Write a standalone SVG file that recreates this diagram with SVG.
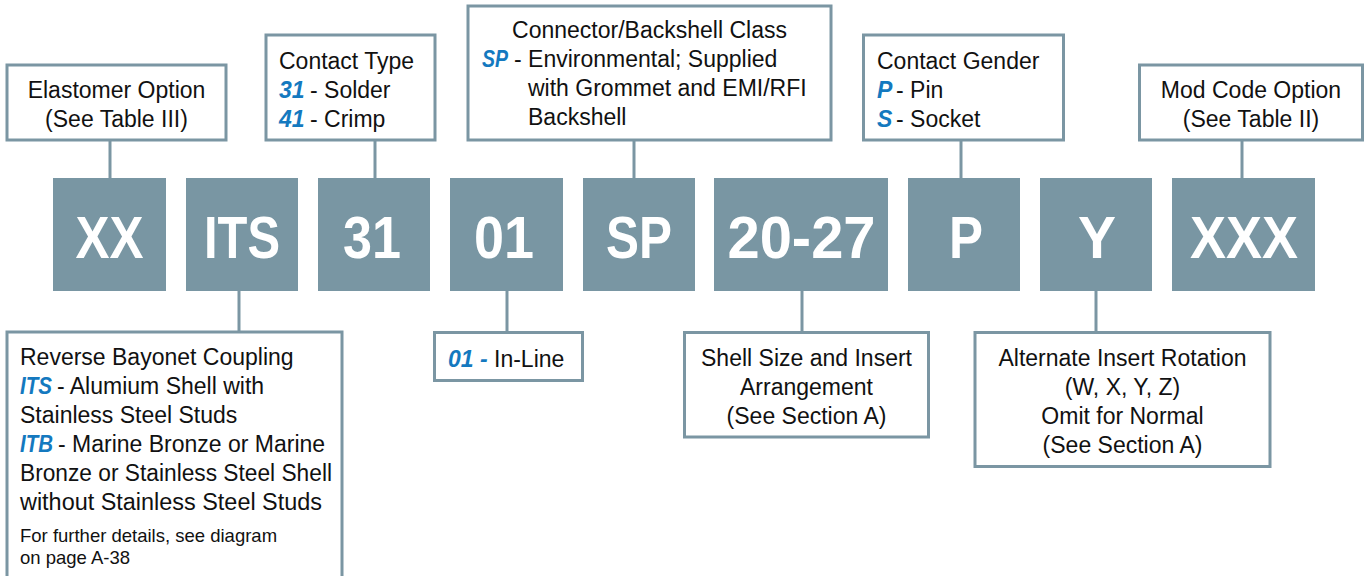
<svg xmlns="http://www.w3.org/2000/svg" width="1365" height="576" viewBox="0 0 1365 576">
<style>
.code{fill:#7996a3}
.ct{font-family:"Liberation Sans",Arial,sans-serif;font-weight:bold;font-size:60px;fill:#fff;text-anchor:middle}
.box{fill:#fff;stroke:#7b96a3;stroke-width:3}
.t{font-family:"Liberation Sans",Arial,sans-serif;font-size:23px;fill:#111}
.c{text-anchor:middle}
.s{font-size:18.5px}
.b{fill:#1479bf;font-weight:bold;font-style:italic}
.ln{stroke:#7b96a3;stroke-width:3;fill:none}
</style>
<rect width="1365" height="576" fill="#fff"/>
<g id="connectors">
<line class="ln" x1="110" y1="140" x2="110" y2="178"/>
<line class="ln" x1="375" y1="140" x2="375" y2="178"/>
<line class="ln" x1="634" y1="140" x2="634" y2="178"/>
<line class="ln" x1="961" y1="140" x2="961" y2="178"/>
<line class="ln" x1="1242" y1="140" x2="1242" y2="178"/>
<line class="ln" x1="239" y1="291" x2="239" y2="332"/>
<line class="ln" x1="507" y1="291" x2="507" y2="332"/>
<line class="ln" x1="802" y1="291" x2="802" y2="332"/>
<line class="ln" x1="1096" y1="291" x2="1096" y2="332"/>
</g>
<g id="code-xx"><rect class="code" x="53" y="178" width="113" height="113"/><text class="ct" x="109.5" y="258" textLength="68" lengthAdjust="spacingAndGlyphs">XX</text></g>
<g id="code-its"><rect class="code" x="186" y="178" width="112" height="113"/><text class="ct" x="242" y="258" textLength="76" lengthAdjust="spacingAndGlyphs">ITS</text></g>
<g id="code-31"><rect class="code" x="318" y="178" width="112" height="113"/><text class="ct" x="372" y="258" textLength="58" lengthAdjust="spacingAndGlyphs">31</text></g>
<g id="code-01"><rect class="code" x="450" y="178" width="113" height="113"/><text class="ct" x="504" y="258" textLength="60" lengthAdjust="spacingAndGlyphs">01</text></g>
<g id="code-sp"><rect class="code" x="583" y="178" width="112" height="113"/><text class="ct" x="639" y="258" textLength="66" lengthAdjust="spacingAndGlyphs">SP</text></g>
<g id="code-2027"><rect class="code" x="714" y="178" width="174" height="113"/><text class="ct" x="801.5" y="258" textLength="148" lengthAdjust="spacingAndGlyphs">20-27</text></g>
<g id="code-p"><rect class="code" x="908" y="178" width="112" height="113"/><text class="ct" x="966" y="258" textLength="34" lengthAdjust="spacingAndGlyphs">P</text></g>
<g id="code-y"><rect class="code" x="1040" y="178" width="112" height="113"/><text class="ct" x="1097" y="258" textLength="38" lengthAdjust="spacingAndGlyphs">Y</text></g>
<g id="code-xxx"><rect class="code" x="1172" y="178" width="143" height="113"/><text class="ct" x="1244" y="258" textLength="108" lengthAdjust="spacingAndGlyphs">XXX</text></g>

<g id="elastomer"><rect class="box" x="7" y="65" width="219" height="75"/>
<text class="t c" x="116.5" y="98">Elastomer Option</text>
<text class="t c" x="116.5" y="127">(See Table III)</text></g>

<g id="contact-type"><rect class="box" x="266" y="35" width="169" height="105"/>
<text class="t" x="279" y="69">Contact Type</text>
<text class="t" y="98"><tspan class="b" x="279">31</tspan><tspan x="310">- Solder</tspan></text>
<text class="t" y="127"><tspan class="b" x="279">41</tspan><tspan x="310">- Crimp</tspan></text></g>

<g id="backshell-class"><rect class="box" x="468" y="6" width="363" height="134"/>
<text class="t c" x="649.5" y="38">Connector/Backshell Class</text>
<text class="t" y="67"><tspan class="b" x="482" textLength="26" lengthAdjust="spacingAndGlyphs">SP</tspan><tspan x="514">- Environmental; Supplied</tspan></text>
<text class="t" x="528" y="96">with Grommet and EMI/RFI</text>
<text class="t" x="528" y="125">Backshell</text></g>

<g id="contact-gender"><rect class="box" x="863.5" y="35" width="200" height="105"/>
<text class="t" x="877" y="69">Contact Gender</text>
<text class="t" y="98"><tspan class="b" x="877">P</tspan><tspan x="896">- Pin</tspan></text>
<text class="t" y="127"><tspan class="b" x="877">S</tspan><tspan x="896">- Socket</tspan></text></g>

<g id="mod-code"><rect class="box" x="1139.5" y="65" width="223" height="75"/>
<text class="t c" x="1251" y="98">Mod Code Option</text>
<text class="t c" x="1251" y="127">(See Table II)</text></g>

<g id="coupling"><rect class="box" x="7" y="332" width="335" height="260"/>
<text class="t" x="20" y="365">Reverse Bayonet Coupling</text>
<text class="t" y="393.5"><tspan class="b" x="20" textLength="32" lengthAdjust="spacingAndGlyphs">ITS</tspan><tspan x="57">- Alumium Shell with</tspan></text>
<text class="t" x="20" y="422.5">Stainless Steel Studs</text>
<text class="t" y="452"><tspan class="b" x="20" textLength="33" lengthAdjust="spacingAndGlyphs">ITB</tspan><tspan x="58">- Marine Bronze or Marine</tspan></text>
<text class="t" x="20" y="481" textLength="312" lengthAdjust="spacingAndGlyphs">Bronze or Stainless Steel Shell</text>
<text class="t" x="20" y="510" textLength="302" lengthAdjust="spacingAndGlyphs">without Stainless Steel Studs</text>
<text class="t s" x="20" y="541.5">For further details, see diagram</text>
<text class="t s" x="20" y="563.5">on page A-38</text></g>

<g id="inline"><rect class="box" x="434.5" y="332.5" width="148" height="48"/>
<text class="t" y="366.5"><tspan class="b" x="448">01 -</tspan><tspan x="494">In-Line</tspan></text></g>

<g id="shell-size"><rect class="box" x="684.5" y="332.5" width="244" height="104.5"/>
<text class="t c" x="806.5" y="365.5">Shell Size and Insert</text>
<text class="t c" x="806.5" y="394.5">Arrangement</text>
<text class="t c" x="806.5" y="423.5">(See Section A)</text></g>

<g id="rotation"><rect class="box" x="975" y="332.5" width="295" height="134"/>
<text class="t c" x="1122.5" y="365.5">Alternate Insert Rotation</text>
<text class="t c" x="1122.5" y="394.5">(W, X, Y, Z)</text>
<text class="t c" x="1122.5" y="423.5">Omit for Normal</text>
<text class="t c" x="1122.5" y="452.5">(See Section A)</text></g>
</svg>
